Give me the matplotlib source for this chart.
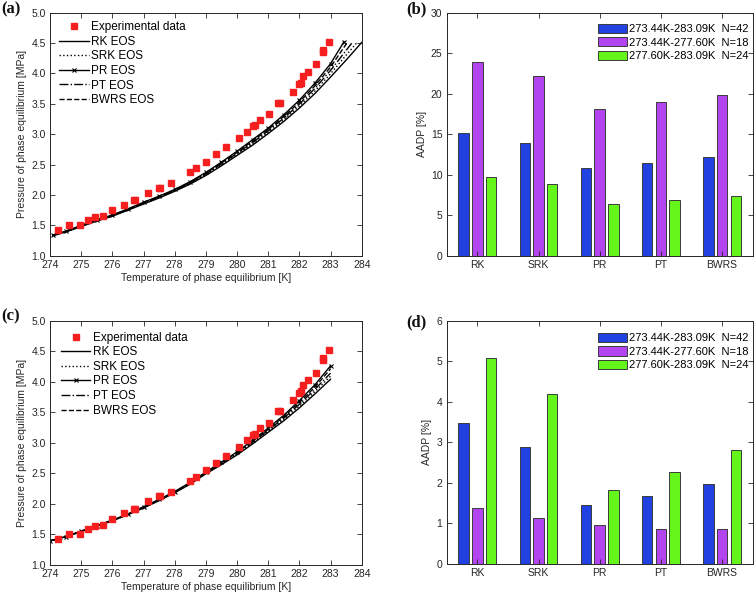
import matplotlib
matplotlib.use("Agg")
import matplotlib.pyplot as plt
import numpy as np

plt.rcParams['font.family'] = ['Liberation Sans', 'DejaVu Sans']

# ---------------- data ----------------
exp_T = [274.25, 274.62, 274.96, 275.22, 275.43, 275.69, 275.99, 276.39, 276.70, 276.74,
         277.13, 277.50, 277.54, 277.88, 278.49, 278.70, 279.01, 279.34, 279.65, 280.05,
         280.33, 280.50, 280.58, 280.73, 281.04, 281.32, 281.38, 281.79, 281.98, 282.05,
         282.13, 282.29, 282.52, 282.75, 282.75, 282.96]
exp_P = [1.42, 1.50, 1.50, 1.58, 1.64, 1.65, 1.75, 1.84, 1.91, 1.91,
         2.04, 2.12, 2.12, 2.20, 2.37, 2.44, 2.55, 2.67, 2.79, 2.93,
         3.04, 3.13, 3.15, 3.24, 3.33, 3.52, 3.52, 3.70, 3.82, 3.85,
         3.95, 4.02, 4.15, 4.36, 4.39, 4.52]

# panel (a) model curves
Ta_grid = [274.1, 274.5, 275.0, 275.5, 276.0, 276.5, 277.0, 277.5, 278.0, 278.5,
           279.0, 279.5, 280.0, 280.5, 281.0, 281.5, 282.0, 282.5, 283.0]
a_RK = [1.33, 1.39, 1.48, 1.57, 1.65, 1.75, 1.85, 1.95, 2.06, 2.18,
        2.32, 2.48, 2.65, 2.82, 3.01, 3.21, 3.43, 3.67, 3.94]
a_RK_tailT = [283.5, 284.0]
a_RK_tailP = [4.22, 4.51]
a_SRK = [1.33, 1.39, 1.485, 1.575, 1.655, 1.755, 1.857, 1.957, 2.067, 2.19,
         2.332, 2.495, 2.667, 2.842, 3.032, 3.237, 3.462, 3.712, 3.995]
a_SRK_tailT = [283.5, 283.85]
a_SRK_tailP = [4.30, 4.51]
a_PR = [1.34, 1.40, 1.50, 1.59, 1.67, 1.77, 1.88, 1.98, 2.09, 2.22,
        2.37, 2.54, 2.72, 2.91, 3.10, 3.32, 3.56, 3.84, 4.16]
a_PR_tailT = [283.43]
a_PR_tailP = [4.52]
a_PT = [1.335, 1.395, 1.49, 1.58, 1.66, 1.76, 1.865, 1.965, 2.075, 2.20,
        2.345, 2.51, 2.685, 2.865, 3.055, 3.265, 3.495, 3.755, 4.05]
a_PT_tailT = [283.5, 283.7]
a_PT_tailP = [4.38, 4.51]
a_BWRS = [1.34, 1.40, 1.495, 1.585, 1.665, 1.765, 1.872, 1.972, 2.082, 2.21,
          2.357, 2.525, 2.702, 2.887, 3.078, 3.292, 3.527, 3.797, 4.105]
a_BWRS_tailT = [283.55]
a_BWRS_tailP = [4.52]

# panel (c) model curves
Tc_grid = [274.0, 274.5, 275.0, 275.5, 276.0, 276.5, 277.0, 277.5, 278.0, 278.5,
           279.0, 279.5, 280.0, 280.5, 281.0, 281.5, 282.0, 282.5, 283.0]
c_RK = [1.39, 1.46, 1.54, 1.63, 1.72, 1.82, 1.93, 2.05, 2.18, 2.32,
        2.49, 2.64, 2.80, 2.98, 3.17, 3.36, 3.57, 3.80, 4.04]
c_SRK = [1.39, 1.46, 1.543, 1.633, 1.723, 1.823, 1.935, 2.055, 2.185, 2.328,
         2.498, 2.65, 2.812, 2.995, 3.188, 3.383, 3.60, 3.838, 4.09]
c_PR = [1.39, 1.46, 1.55, 1.64, 1.73, 1.83, 1.95, 2.07, 2.20, 2.35,
        2.52, 2.68, 2.85, 3.04, 3.24, 3.45, 3.69, 3.95, 4.26]
c_PT = [1.39, 1.46, 1.545, 1.635, 1.725, 1.825, 1.94, 2.06, 2.19, 2.335,
        2.505, 2.66, 2.825, 3.01, 3.205, 3.405, 3.63, 3.875, 4.14]
c_BWRS = [1.39, 1.46, 1.548, 1.638, 1.728, 1.828, 1.945, 2.065, 2.195, 2.342,
          2.512, 2.67, 2.838, 3.025, 3.222, 3.428, 3.66, 3.912, 4.21]

# bar panels
models = ['RK', 'SRK', 'PR', 'PT', 'BWRS']
ranges = ['273.44K-283.09K  N=42', '273.44K-277.60K  N=18', '277.60K-283.09K  N=24']
b_all = [15.19, 13.95, 10.86, 11.48, 12.22]
b_low = [23.95, 22.22, 18.15, 18.93, 19.84]
b_high = [9.71, 8.81, 6.38, 6.83, 7.41]
d_all = [3.48, 2.89, 1.45, 1.67, 1.98]
d_low = [1.37, 1.14, 0.95, 0.86, 0.86]
d_high = [5.07, 4.19, 1.83, 2.28, 2.82]

# ---------------- style ----------------
W, H = 756, 595
fig = plt.figure(figsize=(W / 100, H / 100), dpi=100)

def px_axes(l, t, r, b):
    return fig.add_axes([l / W, 1 - b / H, (r - l) / W, (b - t) / H])

spine_c = '#262626'
tick_fs = 7.5
label_fs = 7.5
leg_fs = 8.5
bar_leg_fs = 8.0

def style(ax):
    for s in ax.spines.values():
        s.set_color(spine_c)
        s.set_linewidth(0.7)
    ax.tick_params(direction='in', top=True, right=True, length=3.5, width=0.6,
                   colors=spine_c, labelsize=tick_fs, pad=3)

def line_panel(ax, Tg, rk, srk, pr, pt, bwrs, tails, leg_anchor):
    ax.plot(exp_T, exp_P, 's', color='#f51f1f', ms=4.6, mec='#f51f1f', ls='none',
            label='Experimental data', zorder=5)
    rkT = Tg + tails['RK'][0]; rkP = rk + tails['RK'][1]
    srkT = Tg + tails['SRK'][0]; srkP = srk + tails['SRK'][1]
    prT = Tg + tails['PR'][0]; prP = pr + tails['PR'][1]
    ptT = Tg + tails['PT'][0]; ptP = pt + tails['PT'][1]
    bwT = Tg + tails['BWRS'][0]; bwP = bwrs + tails['BWRS'][1]
    ax.plot(rkT, rkP, '-', color='k', lw=1.0, label='RK EOS')
    ax.plot(srkT, srkP, ':', color='k', lw=1.0, label='SRK EOS')
    ax.plot(prT, prP, '-', color='k', lw=1.0, marker='x', ms=3.5, mew=0.8, label='PR EOS')
    ax.plot(ptT, ptP, '-.', color='k', lw=1.0, label='PT EOS')
    ax.plot(bwT, bwP, '--', color='k', lw=1.0, label='BWRS EOS')
    ax.set_xlim(274, 284)
    ax.set_ylim(1.0, 5.0)
    ax.set_xticks(np.arange(274, 285, 1))
    ax.set_yticks(np.arange(1.0, 5.01, 0.5))
    ax.set_yticklabels([f'{v:.1f}' for v in np.arange(1.0, 5.01, 0.5)])
    ax.set_xlabel('Temperature of phase equilibrium [K]', fontsize=label_fs, color=spine_c, labelpad=2)
    ax.set_ylabel('Pressure of phase equilibrium [MPa]', fontsize=label_fs, color=spine_c, labelpad=3)
    style(ax)
    ax.legend(loc='upper left', bbox_to_anchor=leg_anchor, frameon=False, fontsize=leg_fs,
              handlelength=2.5, handletextpad=0.2, labelspacing=0.22, borderaxespad=0,
              borderpad=0)

def bar_panel(ax, s1, s2, s3, ymax, leg_anchor):
    x = np.arange(1, len(models) + 1)
    cols = ['#2141e0', '#b245f0', '#66f51a']
    offs = [-0.225, 0.0, 0.225]
    for vals, c, o, lab in zip([s1, s2, s3], cols, offs, ranges):
        ax.bar(x + o, vals, width=0.17, color=c, edgecolor='#3a3a3a', linewidth=0.7, label=lab)
    ax.set_xlim(0.5, 5.5)
    ax.set_ylim(0, ymax)
    ax.set_xticks(x)
    ax.set_xticklabels(models)
    ax.set_ylabel('AADP [%]', fontsize=label_fs, color=spine_c, labelpad=3)
    style(ax)
    ax.legend(loc='upper left', bbox_to_anchor=leg_anchor, frameon=False, fontsize=bar_leg_fs,
              handlelength=2.6, handleheight=0.9, handletextpad=0.15, labelspacing=0.28,
              borderaxespad=0, borderpad=0)

tails_a = {'RK': (a_RK_tailT, a_RK_tailP), 'SRK': (a_SRK_tailT, a_SRK_tailP),
           'PR': (a_PR_tailT, a_PR_tailP), 'PT': (a_PT_tailT, a_PT_tailP),
           'BWRS': (a_BWRS_tailT, a_BWRS_tailP)}
tails_c = {k: ([], []) for k in ['RK', 'SRK', 'PR', 'PT', 'BWRS']}

ax_a = px_axes(50, 12.7, 361.7, 255.7)
line_panel(ax_a, Ta_grid, a_RK, a_SRK, a_PR, a_PT, a_BWRS, tails_a, (0.03, 0.965))

ax_b = px_axes(446.7, 12.7, 752.7, 255.7)
bar_panel(ax_b, b_all, b_low, b_high, 30, (0.495, 0.955))
ax_b.set_yticks(np.arange(0, 31, 5))

ax_c = px_axes(50, 320.7, 361.7, 564.7)
line_panel(ax_c, Tc_grid, c_RK, c_SRK, c_PR, c_PT, c_BWRS, tails_c, (0.035, 0.955))

ax_d = px_axes(446.7, 320.7, 752.7, 564.0)
bar_panel(ax_d, d_all, d_low, d_high, 6, (0.495, 0.95))
ax_d.set_yticks(np.arange(0, 7, 1))

for lab, xp, yp in [('(a)', 1, 9), ('(b)', 406, 9), ('(c)', 1, 316), ('(d)', 406, 322)]:
    fig.text(xp / W, 1 - yp / H, lab, family='Liberation Serif', weight='bold',
             fontsize=12, ha='left', va='center', color='#111111')

fig.savefig('out.png', dpi=100)
